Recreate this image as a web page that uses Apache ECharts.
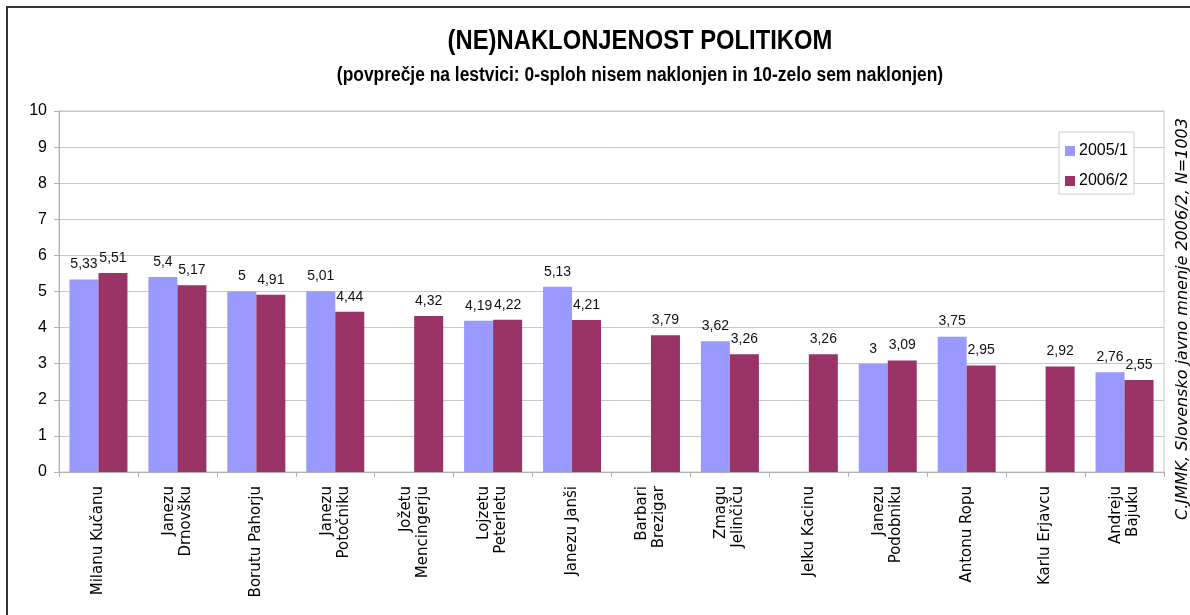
<!DOCTYPE html>
<html>
<head>
<meta charset="utf-8">
<script src="https://cdn.jsdelivr.net/npm/echarts@6/dist/echarts.min.js"></script>
<style>
  html, body { margin: 0; padding: 0; background: #fff; }
  #chart { width: 1190px; height: 615px; }
</style>
</head>
<body>
<div id="chart"></div>
<script>
// Politicians (dative form, as used in the survey question)
const categories = [
  'Milanu Kučanu', 'Janezu\nDrnovšku', 'Borutu Pahorju', 'Janezu\nPotočniku',
  'Jožetu\nMencingerju', 'Lojzetu\nPeterletu', 'Janezu Janši', 'Barbari\nBrezigar',
  'Zmagu\nJelinčiču', 'Jelku Kacinu', 'Janezu\nPodobniku', 'Antonu Ropu',
  'Karlu Erjavcu', 'Andreju\nBajuku'
];
const seriesNames = ['2005/1', '2006/2'];
// Average scores; null where the person was not included in the 2005/1 wave
const values2005 = [5.33, 5.4, 5, 5.01, null, 4.19, 5.13, null, 3.62, null, 3, 3.75, null, 2.76];
const values2006 = [5.51, 5.17, 4.91, 4.44, 4.32, 4.22, 4.21, 3.79, 3.26, 3.26, 3.09, 2.95, 2.92, 2.55];
const yTicks = [0, 1, 2, 3, 4, 5, 6, 7, 8, 9, 10];

const titleText = '(NE)NAKLONJENOST POLITIKOM';
const subtitleText = '(povprečje na lestvici: 0-sploh nisem naklonjen in 10-zelo sem naklonjen)';
const sourceText = 'C.JMMK, Slovensko javno mnenje 2006/2, N=1003';

const sans = '"Liberation Sans", Arial, sans-serif';
const wide = '"DejaVu Sans", "Liberation Sans", sans-serif';
const colors = ['#9999FF', '#993366'];

const fmt = p => (p.value == null ? '' : String(p.value).replace('.', ','));

const chart = echarts.init(document.getElementById('chart'), null, { renderer: 'canvas' });

function barSeries(name, data, color) {
  return {
    name: name,
    type: 'bar',
    data: data,
    barWidth: 29,
    barGap: '0%',
    itemStyle: { color: color },
    label: {
      show: true,
      position: 'top',
      distance: 8,
      formatter: fmt,
      fontFamily: sans,
      fontSize: 14,
      color: '#111'
    }
  };
}

chart.setOption({
  animation: false,
  backgroundColor: '#fff',
  color: colors,
  legend: {
    data: seriesNames,
    orient: 'vertical',
    left: 1059, top: 132,
    width: 72,
    padding: [11, 6, 5, 6],
    itemGap: 14,
    itemWidth: 10, itemHeight: 10,
    icon: 'rect',
    backgroundColor: '#fff',
    borderColor: '#ccc',
    borderWidth: 1,
    textStyle: { fontFamily: sans, fontSize: 16, color: '#000', padding: [0, 0, 0, -1] }
  },
  grid: {
    left: 59, right: 26, top: 111, bottom: 143,
    show: true, borderColor: '#c8c8c8', borderWidth: 1, backgroundColor: 'transparent'
  },
  xAxis: {
    type: 'category',
    data: categories,
    axisLine: { lineStyle: { color: '#b0b0b0', width: 1 } },
    axisTick: { show: true, length: 5, interval: 0, lineStyle: { color: '#b0b0b0' } },
    axisLabel: {
      interval: 0,
      rotate: 90,
      margin: 14,
      fontFamily: wide,
      fontSize: 15,
      lineHeight: 17,
      color: '#000'
    }
  },
  yAxis: {
    type: 'value',
    min: 0, max: 10, interval: 1,
    axisLine: { show: true, lineStyle: { color: '#b0b0b0' } },
    axisTick: { show: true, length: 5, lineStyle: { color: '#b0b0b0' } },
    splitLine: { lineStyle: { color: '#c8c8c8', width: 1 } },
    axisLabel: {
      margin: 12,
      fontFamily: sans,
      fontSize: 16,
      color: '#000',
      formatter: v => (yTicks.indexOf(v) >= 0 ? String(v) : '')
    }
  },
  series: [
    barSeries(seriesNames[0], values2005, colors[0]),
    barSeries(seriesNames[1], values2006, colors[1])
  ],
  graphic: [
    {
      // outer frame of the chart sheet
      type: 'rect',
      shape: { x: 7, y: 7, width: 1260, height: 700 },
      style: { fill: 'none', stroke: '#333', lineWidth: 2 },
      silent: true
    },
    {
      // condensed bold title
      type: 'text',
      x: 640, y: 41,
      scaleX: 0.85,
      style: {
        text: titleText,
        fontFamily: sans, fontSize: 28, fontWeight: 'bold',
        fill: '#000', textAlign: 'center', textVerticalAlign: 'middle'
      },
      silent: true
    },
    {
      type: 'text',
      x: 640, y: 75,
      scaleX: 0.87,
      style: {
        text: subtitleText,
        fontFamily: sans, fontSize: 20, fontWeight: 'bold',
        fill: '#000', textAlign: 'center', textVerticalAlign: 'middle'
      },
      silent: true
    },
    {
      type: 'text',
      x: 1183, y: 319,
      rotation: Math.PI / 2,
      style: {
        text: sourceText,
        fontFamily: wide,
        fontSize: 16,
        fontStyle: 'italic',
        fill: '#000',
        textAlign: 'center',
        textVerticalAlign: 'middle'
      },
      silent: true
    }
  ]
});
</script>
</body>
</html>
